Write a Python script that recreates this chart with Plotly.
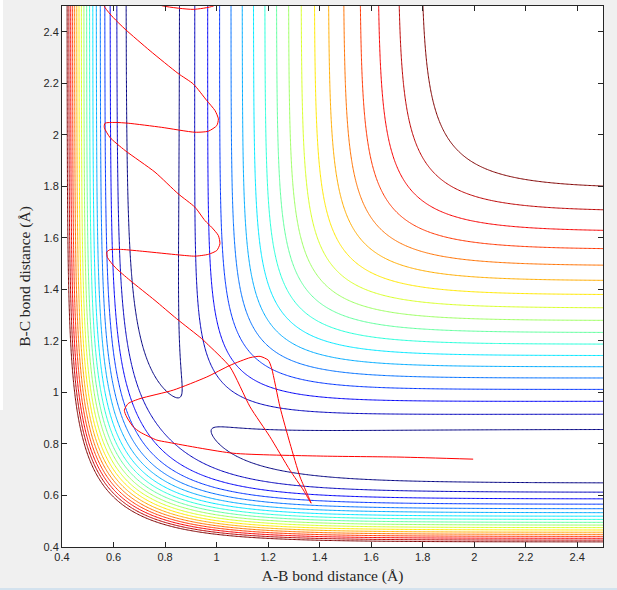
import numpy as np
import plotly.graph_objects as go

# LEPS surface for collinear A + B-C (H + H2 type), energies in units of De
BETA = 1.942   # Morse range parameter, 1/angstrom
R0 = 0.742     # B-C equilibrium distance, angstrom
SATO = 0.187   # Sato parameter

R_MIN, R_MAX = 0.4, 2.5
GRID_N = 421

# contour levels (fractions of De)
LEVEL_LOW = -0.960
LEVEL_HIGH = -0.243
N_LEVELS = 18

TICK_VALS = [0.4, 0.6, 0.8, 1.0, 1.2, 1.4, 1.6, 1.8, 2.0, 2.2, 2.4]
TICK_TEXT = ["0.4", "0.6", "0.8", "1", "1.2", "1.4", "1.6", "1.8", "2", "2.2", "2.4"]

# trajectory (A-B, B-C) in angstrom, starting at A-B = 2
traj_ab = [1.996, 1.712, 1.402, 1.064, 0.808, 0.768, 0.703, 0.677, 0.651, 0.642,
           0.657, 0.703, 0.832, 0.962, 1.052, 1.130, 1.169, 1.201, 1.214, 1.246,
           1.285, 1.324, 1.367, 1.337, 1.285, 1.207, 1.130, 1.052, 0.962, 0.942,
           0.845, 0.761, 0.664, 0.606, 0.577, 0.574, 0.586, 0.632, 0.722, 0.851,
           0.916, 0.968, 1.001, 1.013, 1.007, 0.981, 0.955, 0.916, 0.851, 0.761,
           0.645, 0.586, 0.564, 0.567, 0.606, 0.657, 0.787, 0.916, 0.968, 1.001,
           1.007, 0.994, 0.962, 0.910, 0.851, 0.742, 0.645, 0.599, 0.567, 0.560,
           0.575, 0.620, 0.700, 0.793, 0.909, 0.987, 1.020]
traj_bc = [0.741, 0.749, 0.753, 0.764, 0.807, 0.815, 0.846, 0.866, 0.905, 0.931,
           0.957, 0.976, 1.009, 1.060, 1.105, 1.135, 1.140, 1.125, 1.093, 0.944,
           0.802, 0.672, 0.570, 0.621, 0.698, 0.828, 0.944, 1.099, 1.190, 1.209,
           1.286, 1.357, 1.435, 1.486, 1.523, 1.545, 1.554, 1.555, 1.547, 1.534,
           1.529, 1.536, 1.551, 1.577, 1.609, 1.641, 1.667, 1.719, 1.771, 1.855,
           1.939, 1.990, 2.029, 2.045, 2.048, 2.045, 2.029, 2.010, 2.014, 2.036,
           2.062, 2.094, 2.133, 2.197, 2.238, 2.326, 2.410, 2.455, 2.494, 2.520,
           2.550, 2.560, 2.530, 2.500, 2.487, 2.500, 2.530]

# MATLAB jet
JET = [[0.0, "rgb(0,0,128)"], [0.125, "rgb(0,0,255)"], [0.375, "rgb(0,255,255)"],
       [0.625, "rgb(255,255,0)"], [0.875, "rgb(255,0,0)"], [1.0, "rgb(128,0,0)"]]

INK = "#262626"


def coulomb_exchange(r):
    x = np.exp(-BETA * (r - R0))
    singlet = x * x - 2 * x
    triplet = 0.5 * (x * x + 2 * x)
    q = 0.5 * (singlet * (1 + SATO) + triplet * (1 - SATO))
    j = 0.5 * (singlet * (1 + SATO) - triplet * (1 - SATO))
    return q, j


def leps(r1, r2):
    q1, j1 = coulomb_exchange(r1)
    q2, j2 = coulomb_exchange(r2)
    q3, j3 = coulomb_exchange(r1 + r2)
    ex = np.sqrt(0.5 * ((j1 - j2) ** 2 + (j2 - j3) ** 2 + (j3 - j1) ** 2))
    return (q1 + q2 + q3 - ex) / (1 + SATO)


r = np.linspace(R_MIN, R_MAX, GRID_N)
rab, rbc = np.meshgrid(r, r)
v = leps(rab, rbc)
step = (LEVEL_HIGH - LEVEL_LOW) / (N_LEVELS - 1)

fig = go.Figure()
fig.add_trace(go.Contour(
    x=r, y=r, z=v,
    contours=dict(coloring="lines", start=LEVEL_LOW, end=LEVEL_HIGH + step * 0.01,
                  size=step),
    line=dict(width=1, smoothing=1),
    colorscale=JET, zauto=False, zmin=LEVEL_LOW, zmax=LEVEL_HIGH,
    showscale=False, hoverinfo="skip",
))
fig.add_trace(go.Scatter(
    x=traj_ab, y=traj_bc, mode="lines",
    line=dict(color="#ff0000", width=1, shape="spline", smoothing=0.6),
    showlegend=False, hoverinfo="skip",
))

axis = dict(range=[R_MIN, R_MAX], tickvals=TICK_VALS, ticktext=TICK_TEXT,
            ticks="inside", ticklen=5, tickcolor=INK, mirror="allticks",
            showline=True, linecolor=INK, linewidth=1, showgrid=False,
            zeroline=False, tickfont=dict(family="Liberation Sans", size=11, color=INK))
title_font = dict(family="Liberation Serif", size=15.5, color=INK)

fig.update_layout(
    width=617, height=590,
    margin=dict(l=62, r=14, t=6, b=43),
    paper_bgcolor="#f0f0f0", plot_bgcolor="white",
    showlegend=False,
    xaxis=dict(axis, title=dict(text="A-B bond distance (Å)", standoff=7, font=title_font)),
    yaxis=dict(axis, title=dict(text="B-C bond distance (Å)", standoff=9, font=title_font)),
    shapes=[
        # window edge artefacts of the screenshot
        dict(type="rect", xref="paper", yref="paper", x0=-62 / 541, x1=-59 / 541,
             y0=137 / 541, y1=547 / 541, fillcolor="white", line_width=0),
        dict(type="rect", xref="paper", yref="paper", x0=-62 / 541, x1=555 / 541,
             y0=-43 / 541, y1=-41 / 541, fillcolor="#d3e2ee", line_width=0),
    ],
)

# page body margin off so the figure sits at the window corner
fig.write_html("out.html", config={"displayModeBar": False},
               post_script="document.body.style.margin='0';")
